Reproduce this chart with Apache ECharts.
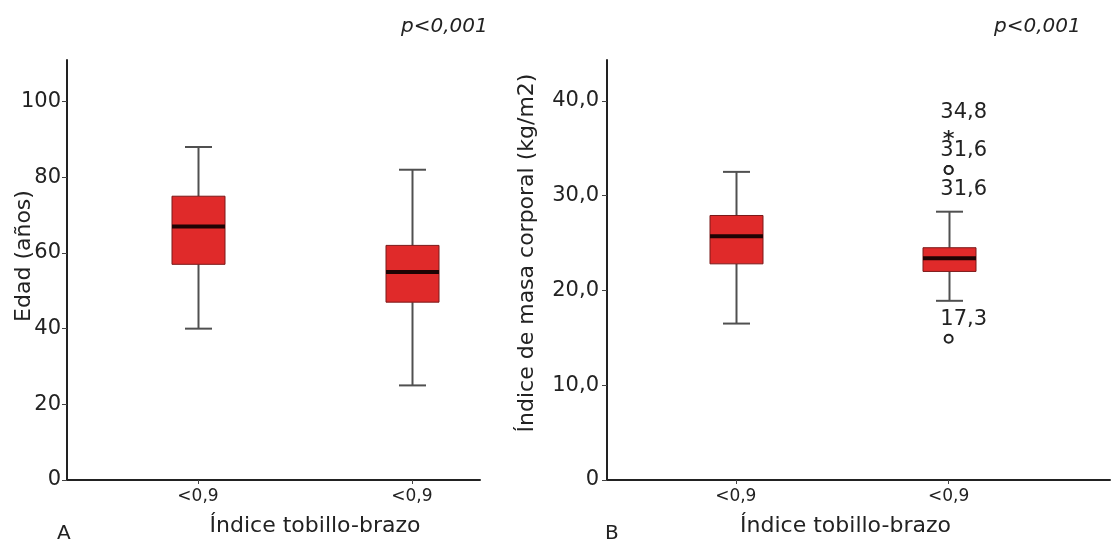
<!DOCTYPE html>
<html>
<head>
<meta charset="utf-8">
<title>Edad e IMC según índice tobillo-brazo</title>
<script src="https://cdn.jsdelivr.net/npm/echarts@6/dist/echarts.min.js"></script>
<style>
    html, body { margin: 0; padding: 0; background: #fff; }
    #container { width: 1111px; height: 542px; }
</style>
</head>
<body>
<div id="container"></div>
<script type="text/javascript">
    // grupos (posicion de cada caja sobre el eje x)
    var groups = ['<0,9', '<0,9'];
    var groupPos = [1, 2];

    // cajas: [min, Q1, mediana, Q3, max]
    var edadStats = [[40, 57, 67, 75, 88], [25, 47, 55, 62, 82]];
    var imcStats = [[16.5, 22.8, 25.7, 27.9, 32.5], [18.9, 22.0, 23.4, 24.5, 28.3]];

    // valores atipicos del IMC (grupo, valor) y sus etiquetas
    var imcOutlierGroup = [2, 2, 2, 2];
    var imcOutlierValue = [36.4, 32.7, 32.7, 14.9];
    var imcOutlierLabel = ['34,8', '31,6', '31,6', '17,3'];
    var imcOutlierKind = ['extremo', 'atipico', 'atipico', 'atipico'];

    // marcas de los ejes y
    var edadTicks = [0, 20, 40, 60, 80, 100];
    var imcTicks = [0, 10, 20, 30, 40];

    var FONT = 'DejaVu Sans';
    var INK = '#222';
    var BOX_W = 53, CAP_W = 27;

    var dom = document.getElementById('container');
    var myChart = echarts.init(dom);

    function toRows(stats) {
        return stats.map(function (s, i) { return [groupPos[i]].concat(s); });
    }

    function boxRender(params, api) {
        var x = api.value(0);
        var lo = api.coord([x, api.value(1)]);
        var q1 = api.coord([x, api.value(2)]);
        var md = api.coord([x, api.value(3)]);
        var q3 = api.coord([x, api.value(4)]);
        var hi = api.coord([x, api.value(5)]);
        var cx = Math.round(lo[0]) + 0.5;
        var hw = BOX_W / 2, cw = CAP_W / 2;
        var whisker = { stroke: '#505050', lineWidth: 2 };
        return {
            type: 'group',
            children: [
                { type: 'line', shape: { x1: cx, y1: hi[1], x2: cx, y2: q3[1] }, style: whisker },
                { type: 'line', shape: { x1: cx, y1: q1[1], x2: cx, y2: lo[1] }, style: whisker },
                { type: 'line', shape: { x1: cx - cw, y1: hi[1], x2: cx + cw, y2: hi[1] }, style: whisker },
                { type: 'line', shape: { x1: cx - cw, y1: lo[1], x2: cx + cw, y2: lo[1] }, style: whisker },
                { type: 'rect', shape: { x: cx - hw, y: q3[1], width: BOX_W, height: q1[1] - q3[1] },
                  style: { fill: '#e02a2a', stroke: '#7a1818', lineWidth: 1 } },
                { type: 'line', shape: { x1: cx - hw, y1: md[1], x2: cx + hw, y2: md[1] },
                  style: { stroke: '#1e0404', lineWidth: 4 } }
            ]
        };
    }

    function numComma(v) {
        return v === 0 ? '0' : v.toFixed(1).replace('.', ',');
    }

    var axisLine = { lineStyle: { color: INK, width: 2 } };
    var tickStyle = { lineStyle: { color: '#444', width: 1 } };
    var labelStyle = { color: INK, fontFamily: FONT, fontSize: 21 };
    var nameStyle = { color: INK, fontFamily: FONT, fontSize: 22 };

    function xAxisFor(gridIndex, min, max, pad) {
        return {
            type: 'value', gridIndex: gridIndex, min: min, max: max,
            name: 'Índice tobillo-brazo', nameLocation: 'middle', nameGap: 35,
            nameTextStyle: Object.assign({ padding: pad }, nameStyle),
            axisLine: axisLine,
            axisTick: { show: true, length: 4, customValues: groupPos, lineStyle: tickStyle.lineStyle },
            axisLabel: {
                customValues: groupPos, margin: 8,
                color: INK, fontFamily: FONT, fontSize: 17,
                formatter: function (v) { return groups[groupPos.indexOf(v)]; }
            },
            splitLine: { show: false }
        };
    }

    var outlierData = imcOutlierValue.map(function (v, i) {
        var extremo = imcOutlierKind[i] === 'extremo';
        return {
            value: [imcOutlierGroup[i], v],
            symbol: extremo ? 'path://M0,-5L0,5M-4.33,-2.5L4.33,2.5M-4.33,2.5L4.33,-2.5' : 'emptyCircle',
            symbolSize: extremo ? 10 : 8,
            itemStyle: extremo ? { color: 'none', borderColor: INK, borderWidth: 1.6 } : { color: INK, borderWidth: 1.6 },
            label: {
                show: true,
                formatter: imcOutlierLabel[i],
                position: i === 2 ? 'bottom' : 'top',
                color: INK
            }
        };
    });

    var textA = { fontFamily: FONT, fontSize: 20, fontWeight: 'normal', color: INK };
    var textP = { fontFamily: FONT, fontSize: 20, fontStyle: 'italic', fontWeight: 'normal', color: INK };

    var option = {
        backgroundColor: '#fff',
        animation: false,
        title: [
            { text: 'p<0,001', left: 396, top: 12, textStyle: textP },
            { text: 'p<0,001', left: 989, top: 12, textStyle: textP },
            { text: 'A', left: 52, top: 519, textStyle: textA },
            { text: 'B', left: 600, top: 519, textStyle: textA }
        ],
        grid: [
            { left: 67, right: 631, top: 60, bottom: 62, containLabel: false, outerBoundsMode: 'none' },
            { left: 607, right: 1, top: 60, bottom: 62, containLabel: false, outerBoundsMode: 'none' }
        ],
        xAxis: [
            xAxisFor(0, 0.388, 2.318, [0, 0, 0, 83]),
            xAxisFor(1, 0.395, 2.758, [0, 26, 0, 0])
        ],
        yAxis: [
            {
                type: 'value', gridIndex: 0, min: 0, max: 111,
                name: 'Edad (años)', nameLocation: 'middle', nameGap: 32, nameMoveOverlap: false,
                nameTextStyle: Object.assign({ padding: [0, 0, 0, 28] }, nameStyle),
                axisLine: { show: true, lineStyle: axisLine.lineStyle },
                axisTick: { show: true, length: 5, customValues: edadTicks, lineStyle: tickStyle.lineStyle },
                axisLabel: Object.assign({ customValues: edadTicks, margin: 6 }, labelStyle),
                splitLine: { show: false }
            },
            {
                type: 'value', gridIndex: 1, min: 0, max: 44.3,
                name: 'Índice de masa corporal (kg/m2)', nameLocation: 'middle', nameGap: 69, nameMoveOverlap: false,
                nameTextStyle: Object.assign({ padding: [0, 0, 0, 34] }, nameStyle),
                axisLine: { show: true, lineStyle: axisLine.lineStyle },
                axisTick: { show: true, length: 5, customValues: imcTicks, lineStyle: tickStyle.lineStyle },
                axisLabel: Object.assign({ customValues: imcTicks, margin: 8, formatter: numComma }, labelStyle),
                splitLine: { show: false }
            }
        ],
        series: [
            {
                name: 'Edad', type: 'custom', xAxisIndex: 0, yAxisIndex: 0,
                renderItem: boxRender, encode: { x: 0, y: [1, 2, 3, 4, 5] },
                data: toRows(edadStats)
            },
            {
                name: 'IMC', type: 'custom', xAxisIndex: 1, yAxisIndex: 1,
                renderItem: boxRender, encode: { x: 0, y: [1, 2, 3, 4, 5] },
                data: toRows(imcStats)
            },
            {
                name: 'IMC atípicos', type: 'scatter', xAxisIndex: 1, yAxisIndex: 1,
                itemStyle: { opacity: 1 },
                label: { offset: [15, 0], distance: 4, color: INK, fontFamily: FONT, fontSize: 21 },
                data: outlierData
            }
        ]
    };

    if (option && typeof option === 'object') {
        myChart.setOption(option);
    }
</script>
</body>
</html>
